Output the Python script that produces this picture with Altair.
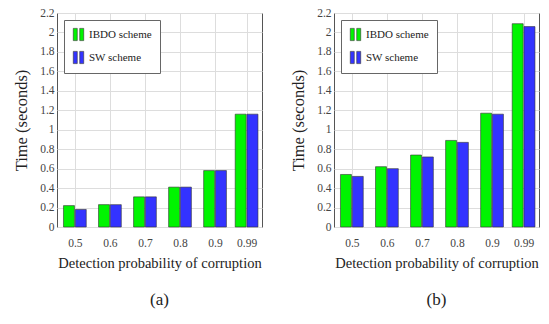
import altair as alt
import pandas as pd

probs = [0.5, 0.6, 0.7, 0.8, 0.9, 0.99]
schemes = ["IBDO scheme", "SW scheme"]
ibdo_a = [0.22, 0.23, 0.31, 0.41, 0.58, 1.16]
sw_a = [0.18, 0.23, 0.31, 0.41, 0.58, 1.16]
ibdo_b = [0.54, 0.62, 0.74, 0.89, 1.17, 2.09]
sw_b = [0.52, 0.60, 0.72, 0.87, 1.16, 2.06]
y_ticks = [0, 0.2, 0.4, 0.6, 0.8, 1.0, 1.2, 1.4, 1.6, 1.8, 2.0, 2.2]
captions = ["(a)", "(b)"]

FONT = "Liberation Serif, Times New Roman, serif"
SYMBOL = "M-0.85,-1H-0.2V1H-0.85Z M0.2,-1H0.85V1H0.2Z"


def panel(ibdo, sw, caption):
    df = pd.DataFrame({
        "p": probs * 2,
        "scheme": [schemes[0]] * len(probs) + [schemes[1]] * len(probs),
        "t": ibdo + sw,
    })
    return alt.Chart(df).transform_calculate(
        side="datum.scheme == 'IBDO scheme' ? -1 : 1"
    ).transform_calculate(
        xa="datum.p + datum.side * 0.0012",
        xb="datum.p + datum.side * 0.0325",
    ).mark_bar(stroke="#333333", strokeWidth=0.6).encode(
        x=alt.X("xa:Q",
                scale=alt.Scale(domain=[0.449, 1.034], nice=False, zero=False),
                axis=alt.Axis(values=probs, format=".2~f",
                              title="Detection probability of corruption",
                              labelPadding=10, titlePadding=8,
                              labelFontSize=11.5, titleFontSize=14.5)),
        x2="xb:Q",
        y=alt.Y("t:Q",
                scale=alt.Scale(domain=[0, 2.2], nice=False),
                axis=alt.Axis(values=y_ticks, format=".1~f",
                              title="Time (seconds)",
                              labelPadding=3, titlePadding=10,
                              labelFontSize=11.5, titleFontSize=16.5)),
        y2=alt.datum(0),
        color=alt.Color("scheme:N",
                        scale=alt.Scale(domain=schemes, range=["#00f400", "#3333ff"]),
                        legend=alt.Legend(title=None, orient="top-left", offset=7,
                                          fillColor="white", strokeColor="#666666",
                                          padding=8, symbolType=SYMBOL, symbolSize=150,
                                          symbolStrokeColor="#333333", symbolStrokeWidth=0.6,
                                          labelFont=FONT, labelFontSize=11,
                                          labelColor="#222222", rowPadding=8,
                                          labelOffset=4)),
    ).properties(
        width=205, height=214,
        title=alt.TitleParams(caption, orient="bottom", frame="group", anchor="middle",
                              font=FONT, fontSize=17, fontWeight="normal",
                              color="#222222", offset=22),
    )


chart = alt.hconcat(
    panel(ibdo_a, sw_a, captions[0]),
    panel(ibdo_b, sw_b, captions[1]),
    spacing=27,
).resolve_scale(color="independent").resolve_legend(color="independent").properties(
    padding={"left": 5, "top": -2, "right": 0, "bottom": 0}
).configure_view(
    stroke="#555555", strokeWidth=1
).configure_axis(
    labelFont=FONT, titleFont=FONT, titleFontWeight="normal",
    labelColor="#444444", titleColor="#222222",
    gridColor="#dddddd", gridWidth=1, domain=False, ticks=False,
)

chart.save("out.html", embed_options={"renderer": "svg", "actions": False})
